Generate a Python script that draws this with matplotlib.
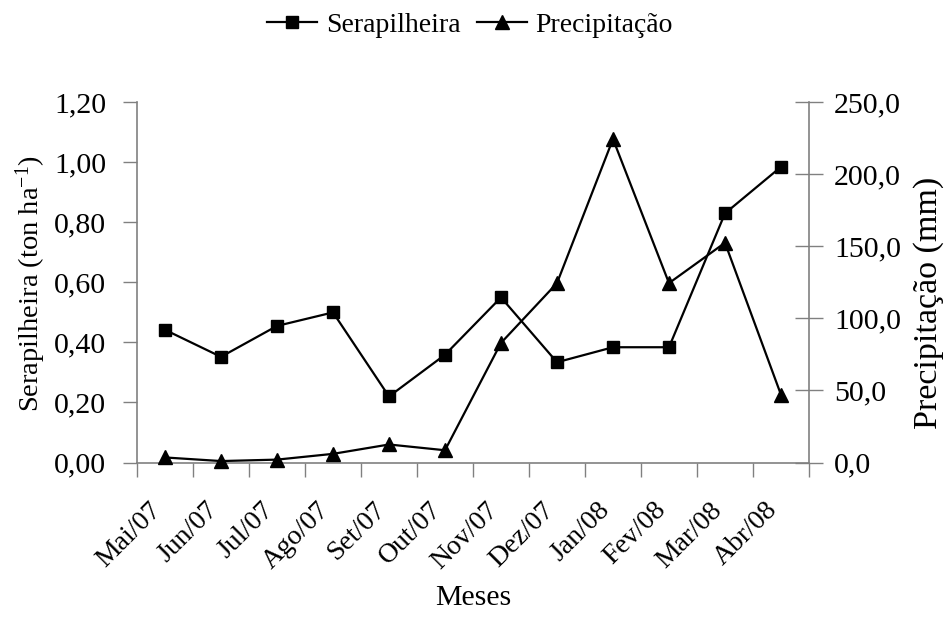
import matplotlib
matplotlib.use("Agg")
import matplotlib.pyplot as plt
from matplotlib.lines import Line2D
import matplotlib.transforms as mtrans

plt.rcParams['font.family'] = ['Liberation Serif', 'DejaVu Serif']
plt.rcParams['mathtext.fontset'] = 'custom'
plt.rcParams['mathtext.rm'] = 'Liberation Serif'
plt.rcParams['mathtext.it'] = 'Liberation Serif:italic'
plt.rcParams['mathtext.default'] = 'regular'

months = ['Mai/07', 'Jun/07', 'Jul/07', 'Ago/07', 'Set/07', 'Out/07',
          'Nov/07', 'Dez/07', 'Jan/08', 'Fev/08', 'Mar/08', 'Abr/08']
serapilheira = [0.442, 0.352, 0.455, 0.500, 0.220, 0.359,
                0.550, 0.334, 0.384, 0.384, 0.830, 0.985]
precipitacao = [3.5, 1.0, 2.0, 6.0, 12.5, 8.5,
                83.0, 124.5, 224.5, 124.5, 152.5, 47.0]

left_ticks = [0.0, 0.2, 0.4, 0.6, 0.8, 1.0, 1.2]
left_labels = ['0,00', '0,20', '0,40', '0,60', '0,80', '1,00', '1,20']
right_ticks = [0, 50, 100, 150, 200, 250]
right_labels = ['0,0', '50,0', '100,0', '150,0', '200,0', '250,0']

gray = '#808080'
fs_tick = 21.5
fs_xtick = 20
fs_ltitle = 20.5
fs_rtitle = 24.5
fs_leg = 20

fig = plt.figure(figsize=(9.44, 6.21), dpi=100)
ax = fig.add_axes([137/944, 1-462.5/621, (809-137)/944, (462.5-102.3)/621])
ax2 = ax.twinx()

x = list(range(len(months)))
ax.plot(x, serapilheira, color='black', lw=1.6, marker='s', ms=8, zorder=3, clip_on=False)
ax2.plot(x, precipitacao, color='black', lw=1.6, marker='^', ms=9.5, zorder=3, clip_on=False)

ax.set_xlim(-0.5, len(months) - 0.5)
ax.set_ylim(0, 1.2)
ax2.set_ylim(0, 250)

# boundary ticks (major) and labels at category centres (minor)
ax.set_xticks([i - 0.5 for i in range(len(months) + 1)])
ax.set_xticklabels([])
ax.set_xticks(x, minor=True)
ax.set_xticklabels(months, minor=True, rotation=45, ha='right', va='top',
                   rotation_mode='anchor', fontsize=fs_xtick)
ax.tick_params(axis='x', which='major', length=10, width=1, color=gray, direction='out')
ax.tick_params(axis='x', which='minor', length=0, pad=0)
offset = mtrans.ScaledTranslation(-16/100, -35/100, fig.dpi_scale_trans)
for lbl in ax.get_xticklabels(minor=True):
    lbl.set_transform(lbl.get_transform() + offset)

ax.set_yticks(left_ticks)
ax.set_yticklabels(left_labels, fontsize=fs_tick)
ax.tick_params(axis='y', length=10, width=1, color=gray, direction='out', pad=12)
ax2.set_yticks(right_ticks)
ax2.set_yticklabels(right_labels, fontsize=fs_tick)
ax2.tick_params(axis='y', length=20, width=1, color=gray, direction='inout', pad=8)

for a in (ax, ax2):
    a.spines['top'].set_visible(False)
    for s in ('left', 'right', 'bottom'):
        a.spines[s].set_color(gray)
        a.spines[s].set_linewidth(1.2)
ax.spines['right'].set_visible(False)
ax2.spines['left'].set_visible(False)
ax2.spines['bottom'].set_visible(False)

fig.text(31/944, 1-284/621, 'Serapilheira (ton ha$^{-1}$)', rotation=90,
         ha='center', va='center', fontsize=fs_ltitle)
fig.text(929/944, 1-303/621, 'Precipitação (mm)', rotation=90,
         ha='center', va='center', fontsize=fs_rtitle)
fig.text(473/944, 1-598/621, 'Meses', ha='center', va='center', fontsize=fs_tick)

handles = [Line2D([], [], color='black', lw=1.6, marker='s', ms=8),
           Line2D([], [], color='black', lw=1.6, marker='^', ms=9.5)]
fig.legend(handles, ['Serapilheira', 'Precipitação'], loc='center',
           bbox_to_anchor=(470/944, 1-25/621), ncol=2, frameon=False,
           fontsize=fs_leg, handlelength=1.8, handletextpad=0.3, columnspacing=0.6)

fig.savefig('out.png', dpi=100)
